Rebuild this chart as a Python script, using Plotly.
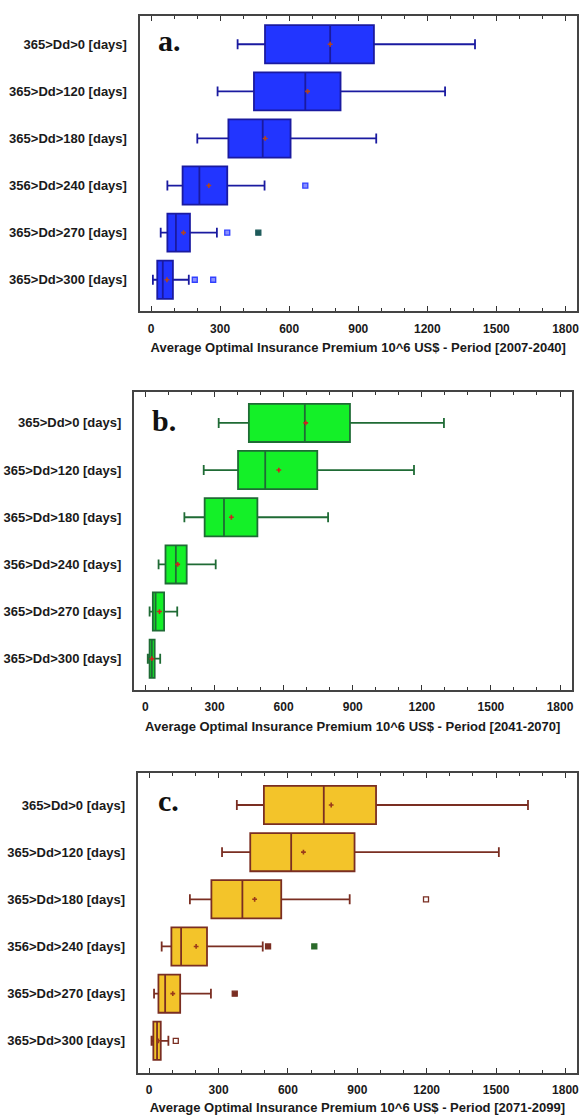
import plotly.graph_objects as go

categories = ["365>Dd>0 [days]", "365>Dd>120 [days]", "365>Dd>180 [days]",
              "356>Dd>240 [days]", "365>Dd>270 [days]", "365>Dd>300 [days]"]

# Period 2007-2040
a_low = [376, 289, 201, 71, 42, 8]
a_q1 = [495, 447, 336, 137, 71, 27]
a_med = [778, 670, 485, 210, 108, 51]
a_q3 = [968, 823, 606, 331, 169, 95]
a_high = [1407, 1277, 978, 493, 286, 164]
a_mean = [778, 680, 496, 251, 141, 69]
a_out_x = [670, 331, 466, 190, 270]
a_out_cat = [3, 4, 4, 5, 5]
a_out_kind = ["light", "light", "far", "light", "light"]

# Period 2041-2070
b_low = [318, 253, 169, 57, 18, 10]
b_q1 = [449, 402, 257, 87, 32, 18]
b_med = [692, 520, 341, 132, 44, 28]
b_q3 = [888, 746, 486, 179, 81, 40]
b_high = [1296, 1166, 793, 305, 138, 64]
b_mean = [696, 579, 373, 140, 61, 28]
b_out_x = []
b_out_cat = []
b_out_kind = []

# Period 2071-2099
c_low = [379, 315, 176, 54, 21, 10]
c_q1 = [496, 437, 269, 96, 40, 18]
c_med = [755, 614, 403, 138, 69, 34]
c_q3 = [981, 888, 571, 250, 134, 50]
c_high = [1638, 1512, 867, 491, 267, 83]
c_mean = [787, 667, 456, 203, 102, 40]
c_out_x = [1197, 514, 714, 370, 115]
c_out_cat = [2, 3, 3, 4, 5]
c_out_kind = ["hollow", "solid", "far", "solid", "hollow"]

x_tick_vals = [0, 300, 600, 900, 1200, 1500, 1800]
titles = ["Average Optimal Insurance Premium 10^6 US$ - Period [2007-2040]",
          "Average Optimal Insurance Premium 10^6 US$ - Period [2041-2070]",
          "Average Optimal Insurance Premium 10^6 US$ - Period [2071-2099]"]
panel_letters = ["a.", "b.", "c."]

W, H = 582, 1115
FONT = "Liberation Sans Narrow, Arial Narrow, Liberation Sans, Arial, sans-serif"
TXT = "#1a1a1a"

panels = [
    dict(low=a_low, q1=a_q1, med=a_med, q3=a_q3, high=a_high, mean=a_mean,
         ox=a_out_x, oc=a_out_cat, ok=a_out_kind,
         fill="#2235ff", line="#1a1aa0", mean_c="#b5451b",
         out_c="#3040ff", out_fill="#8a90ff", far_c="#1d5a5a",
         px=(140, 579), py=(15.6, 311.7), yr=(5.673, -0.609),
         letter_xy=(157, 41)),
    dict(low=b_low, q1=b_q1, med=b_med, q3=b_q3, high=b_high, mean=b_mean,
         ox=b_out_x, oc=b_out_cat, ok=b_out_kind,
         fill="#14f028", line="#1f6b35", mean_c="#d02020",
         out_c="#1f6b35", out_fill="#14f028", far_c="#1f6b35",
         px=(134.4, 573.5), py=(392.7, 690.7), yr=(5.665, -0.648),
         letter_xy=(151, 421)),
    dict(low=c_low, q1=c_q1, med=c_med, q3=c_q3, high=c_high, mean=c_mean,
         ox=c_out_x, oc=c_out_cat, ok=c_out_kind,
         fill="#f3c42a", line="#7a2e22", mean_c="#9a3a1a",
         out_c="#7a2e22", out_fill="#7a2e22", far_c="#2a6a2a",
         px=(138.1, 579), py=(774, 1074), yr=(5.684, -0.672),
         letter_xy=(157, 801)),
]

fig = go.Figure()
layout = dict(width=W, height=H, margin=dict(l=0, r=0, t=0, b=0),
              paper_bgcolor="white", plot_bgcolor="white", showlegend=False,
              annotations=[])

for i, p in enumerate(panels):
    n = "" if i == 0 else str(i + 1)
    xa, ya = "x" + n, "y" + n
    pos = list(range(len(categories)))
    fig.add_trace(go.Box(
        y=pos, q1=p["q1"], median=p["med"], q3=p["q3"],
        lowerfence=p["low"], upperfence=p["high"],
        orientation="h", width=0.81, whiskerwidth=0.26,
        fillcolor=p["fill"], line=dict(color=p["line"], width=1.8),
        boxpoints=False, hoverinfo="skip", xaxis=xa, yaxis=ya))
    fig.add_trace(go.Scatter(
        x=p["mean"], y=pos, mode="markers",
        marker=dict(symbol="cross", size=4, color=p["mean_c"], line=dict(width=0)),
        xaxis=xa, yaxis=ya, hoverinfo="skip"))
    if p["ox"]:
        cols, lcols = [], []
        for k in p["ok"]:
            if k == "far":
                cols.append(p["far_c"]); lcols.append(p["far_c"])
            elif k == "hollow":
                cols.append("#ffffff"); lcols.append(p["out_c"])
            else:
                cols.append(p["out_fill"]); lcols.append(p["out_c"])
        fig.add_trace(go.Scatter(
            x=p["ox"], y=p["oc"], mode="markers",
            marker=dict(symbol="square", size=5, color=cols,
                        line=dict(color=lcols, width=1.3)),
            xaxis=xa, yaxis=ya, hoverinfo="skip"))
    x0, x1 = p["px"]
    y0, y1 = p["py"]
    layout["xaxis" + n] = dict(
        domain=[x0 / W, x1 / W], anchor=ya, range=[-50, 1850],
        tickvals=x_tick_vals, ticks="inside", ticklen=5, tickwidth=1.3,
        tickcolor="#333333", showgrid=False, zeroline=False,
        showline=True, linecolor="#444444", linewidth=2, mirror="allticks",
        minor=dict(ticks="inside", ticklen=3, tickwidth=1.2, dtick=100,
                   tick0=0, tickcolor="#333333", showgrid=False),
        tickfont=dict(family=FONT, size=12, color=TXT, weight="bold"),
        ticklabelstandoff=5,
        title=dict(text=titles[i], standoff=8,
                   font=dict(family=FONT, size=13, color=TXT, weight="bold")),
    )
    layout["yaxis" + n] = dict(
        domain=[1 - y1 / H, 1 - y0 / H], anchor=xa, range=list(p["yr"]),
        tickvals=pos, ticktext=categories, ticks="", showgrid=False,
        zeroline=False, showline=True, linecolor="#444444", linewidth=2,
        mirror=True, ticklabelstandoff=8,
        tickfont=dict(family=FONT, size=13, color=TXT, weight="bold"),
    )
    lx, ly = p["letter_xy"]
    layout["annotations"].append(dict(
        text="<b>" + panel_letters[i] + "</b>", xref="paper", yref="paper",
        x=lx / W, y=1 - ly / H, xanchor="left", yanchor="middle",
        showarrow=False,
        font=dict(family="Liberation Serif, Times New Roman, serif", size=30,
                  color="#111111")))

fig.update_layout(**layout)
fig.write_html("out.html")
